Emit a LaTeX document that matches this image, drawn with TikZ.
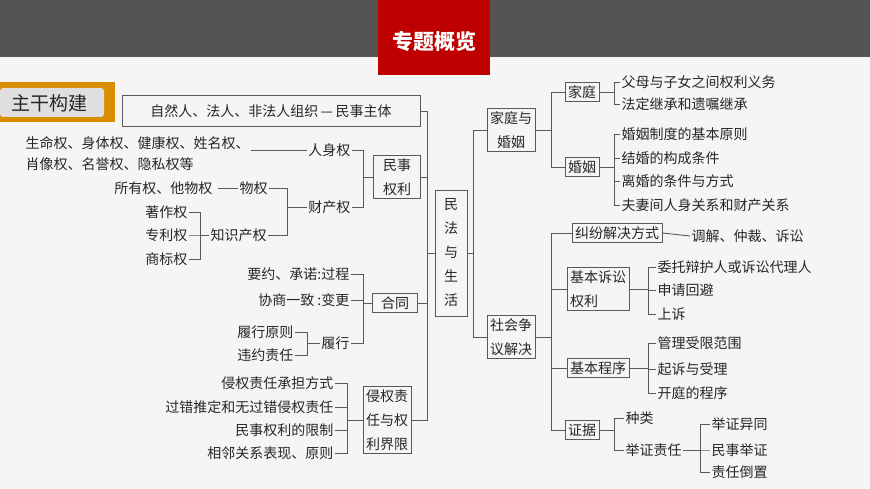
\documentclass[tikz,border=0pt]{standalone}
\usepackage{fontspec}
\setmainfont{Noto Sans CJK SC}
\newfontfamily\cjkb[BoldFont={* Bold}]{Noto Sans CJK SC}
\begin{document}
\begin{tikzpicture}[x=1pt,y=-1pt,
  every node/.style={font=\fontsize{14}{24}\selectfont,text=black!85,inner sep=1.5pt},
  bx/.style={draw=black!65,line width=0.9pt,inner sep=3pt,align=center},
  tl/.style={anchor=west},
  tr/.style={anchor=east},
  ln/.style={draw=black!65,line width=0.9pt}]
\fill[gray!8] (0,0) rectangle (870,489);
\fill[black!67] (0,0) rectangle (870,57);
\fill[red!75!black] (378,0) rectangle (490,75);
\node[text=white,font=\fontsize{21}{24}\selectfont\bfseries] (title) at (434,42) {专题概览};
\fill[orange!70!yellow!85!black] (0,82) rectangle (115,122);
\fill[gray!25] (0,88) [rounded corners=3pt] -- (104,88) -- (104,117) -- (0,117) -- cycle;
\node[font=\fontsize{19}{22}\selectfont] (zg) at (50,103) {主干构建};
% centre column
\node[bx,minimum width=298,minimum height=31] (zt) at (271,111) {自然人、法人、非法人组织\,—\,民事主体};
\node[bx,minimum width=47] (msql) at (397,177) {民事\\权利};
\node[bx,minimum width=45] (ht) at (395,303) {合同};
\node[bx] (qq) at (387,420) {侵权责\\任与权\\利界限};
\node[bx,minimum height=126,minimum width=32] (mf) at (451,253) {民\\法\\与\\生\\活};
\node[bx] (jtyhy) at (511,130) {家庭与\\婚姻};
\node[bx] (shzy) at (511,337) {社会争\\议解决};
\node[bx] (jt) at (582,92) {家庭};
\node[bx] (hy) at (582,167) {婚姻};
\node[bx] (jf) at (617,233) {纠纷解决方式};
\node[bx,align=left] (jbss) at (598,289) {基本诉讼\\权利};
\node[bx] (jbcx) at (598,368) {基本程序};
\node[bx] (zj) at (582,430) {证据};
% bracket x positions
\coordinate (L1) at (427,0);
\coordinate (R1) at (473,0);
\coordinate (R2) at (551,0);
\coordinate (R3) at (614,0);
\coordinate (R4) at (648,0);
\coordinate (R5) at (700,0);
\coordinate (L2) at (363,0);
\coordinate (L3) at (287,0);
\coordinate (L4) at (200,0);
\coordinate (L5) at (307,0);
\coordinate (L6) at (347,0);
% left of mf
\foreach \c in {zt,msql,ht,qq}
  \draw[ln] (\c.east) -- (\c.east -| L1) -- (mf.west -| L1) -- (mf.west);
\foreach \c in {jtyhy,shzy}
  \draw[ln] (\c.west) -- (\c.west -| R1) -- (mf.east -| R1) -- (mf.east);
\foreach \c in {jt,hy}
  \draw[ln] (\c.west) -- (\c.west -| R2) -- (jtyhy.east -| R2) -- (jtyhy.east);
\foreach \c in {jf,jbss,jbcx,zj}
  \draw[ln] (\c.west) -- (\c.west -| R2) -- (shzy.east -| R2) -- (shzy.east);
% right leaves
\node[tl] (a1) at (620,82) {父母与子女之间权利义务};
\node[tl] (a2) at (620,104) {法定继承和遗嘱继承};
\foreach \c in {a1,a2} \draw[ln] (\c.west) -- (\c.west -| R3) -- (jt.east -| R3) -- (jt.east);
\node[tl] (b1) at (620,134) {婚姻制度的基本原则};
\node[tl] (b2) at (620,158) {结婚的构成条件};
\node[tl] (b3) at (620,181) {离婚的条件与方式};
\node[tl] (b4) at (620,205) {夫妻间人身关系和财产关系};
\foreach \c in {b1,b2,b3,b4} \draw[ln] (\c.west) -- (\c.west -| R3) -- (hy.east -| R3) -- (hy.east);
\node[tl] (c1) at (690,236) {调解、仲裁、诉讼};
\draw[ln] (jf.east) -- (c1.west);
\node[tl] (d1) at (656,267) {委托辩护人或诉讼代理人};
\node[tl] (d2) at (656,290) {申请回避};
\node[tl] (d3) at (656,314) {上诉};
\foreach \c in {d1,d2,d3} \draw[ln] (\c.west) -- (\c.west -| R4) -- (jbss.east -| R4) -- (jbss.east);
\node[tl] (e1) at (656,343) {管理受限范围};
\node[tl] (e2) at (656,369) {起诉与受理};
\node[tl] (e3) at (656,393) {开庭的程序};
\foreach \c in {e1,e2,e3} \draw[ln] (\c.west) -- (\c.west -| R4) -- (jbcx.east -| R4) -- (jbcx.east);
\node[tl] (f1) at (624,418) {种类};
\node[tl] (f2) at (624,450) {举证责任};
\foreach \c in {f1,f2} \draw[ln] (\c.west) -- (\c.west -| R3) -- (zj.east -| R3) -- (zj.east);
\node[tl] (g1) at (710,424) {举证异同};
\node[tl] (g2) at (710,450) {民事举证};
\node[tl] (g3) at (710,472) {责任倒置};
\foreach \c in {g1,g2,g3} \draw[ln] (\c.west) -- (\c.west -| R5) -- (f2.east -| R5) -- (f2.east);
% left leaves: 民事权利
\node[tr] (rsq) at (352,150) {人身权};
\node[tr] (ccq) at (352,207) {财产权};
\foreach \c in {rsq,ccq} \draw[ln] (\c.east) -- (\c.east -| L2) -- (msql.west -| L2) -- (msql.west);
\node[tl] (sm1) at (24,143) {生命权、身体权、健康权、姓名权、};
\node[tl] (sm2) at (24,164) {肖像权、名誉权、隐私权等};
\draw[ln] (sm1.east |- rsq.west) -- (rsq.west);
\node[tl] (wq) at (238,188) {物权};
\node[tl] (zscq) at (209,235) {知识产权};
\foreach \c in {wq,zscq} \draw[ln] (\c.east) -- (\c.east -| L3) -- (ccq.west -| L3) -- (ccq.west);
\node[tr] (syq) at (214,188) {所有权、他物权};
\draw[ln] (syq.east) ++(4,0) coordinate (syqe) -- (wq.west);
\node[tr] (zz) at (189,212) {著作权};
\node[tr] (zl) at (189,235) {专利权};
\node[tr] (sb) at (189,259) {商标权};
\foreach \c in {zz,zl,sb} \draw[ln] (\c.east) -- (\c.east -| L4) -- (zscq.west -| L4) -- (zscq.west);
% 合同
\node[tr] (h1) at (351,274) {要约、承诺:过程};
\node[tr] (h2) at (351,300) {协商一致 :变更};
\node[tr] (h3) at (351,343) {履行};
\foreach \c in {h1,h2,h3} \draw[ln] (\c.east) -- (\c.east -| L2) -- (ht.west -| L2) -- (ht.west);
\node[tr] (h4) at (295,332) {履行原则};
\node[tr] (h5) at (295,355) {违约责任};
\foreach \c in {h4,h5} \draw[ln] (\c.east) -- (\c.east -| L5) -- (h3.west -| L5) -- (h3.west);
% 侵权
\node[tr] (q1) at (335,383) {侵权责任承担方式};
\node[tr] (q2) at (335,407) {过错推定和无过错侵权责任};
\node[tr] (q3) at (335,430) {民事权利的限制};
\node[tr] (q4) at (335,453) {相邻关系表现、原则};
\foreach \c in {q1,q2,q3,q4} \draw[ln] (\c.east) -- (\c.east -| L6) -- (qq.west -| L6) -- (qq.west);
\useasboundingbox (0,0) rectangle (870,489);
\end{tikzpicture}
\end{document}
